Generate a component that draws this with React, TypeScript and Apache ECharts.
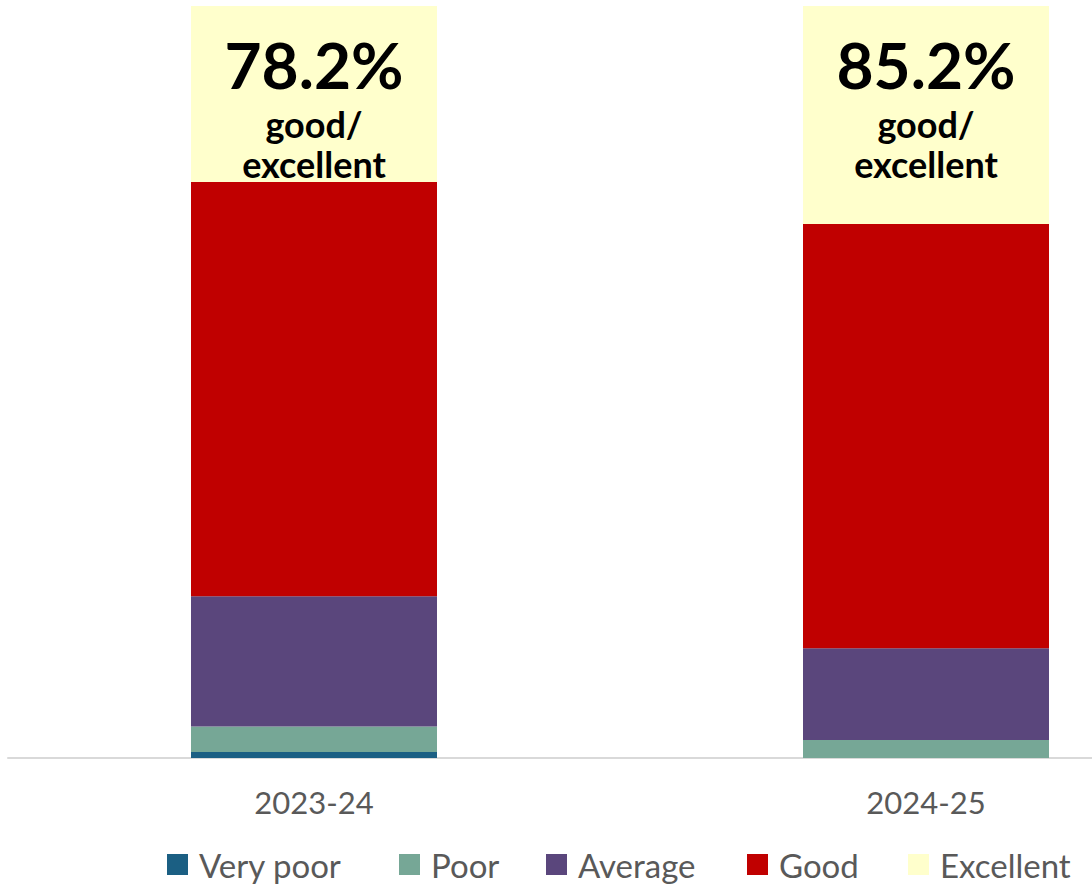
import React, { useEffect, useRef } from "react";
import * as echarts from "echarts";

const categories = ["2023-24", "2024-25"];
const veryPoor = [0.8, 0];
const poor = [3.4, 2.4];
const average = [17.3, 12.2];
const good = [55.1, 56.4];
const excellent = [23.4, 29.0];
const goodExcellentPct = ["78.2%", "85.2%"];

const seriesNames = ["Very poor", "Poor", "Average", "Good", "Excellent"];
const seriesColors = ["#1B5F83", "#76A796", "#5A467C", "#C00000", "#FFFFCC"];
const legendLefts = [167, 399, 546, 747, 908];

export default function App() {
  const ref = useRef<HTMLDivElement>(null);
  useEffect(() => {
    if (!ref.current) return;
    const chart = echarts.init(ref.current, undefined, { renderer: "svg" });
    const values = [veryPoor, poor, average, good, excellent];
    const font = "Lato";
    const series: any[] = seriesNames.map((name, i) => ({
      name,
      type: "bar",
      stack: "total",
      barWidth: 246,
      data: values[i],
      itemStyle: { color: seriesColors[i] },
      emphasis: { disabled: true },
      label:
        name === "Excellent"
          ? {
              show: true,
              position: "insideTop",
              distance: 18,
              formatter: (p: any) =>
                `{a|${goodExcellentPct[p.dataIndex]}}\n{b|good/}\n{b|excellent}`,
              rich: {
                a: {
                  fontFamily: font,
                  fontWeight: "bold",
                  fontSize: 64,
                  lineHeight: 80,
                  color: "#000000",
                  align: "center",
                },
                b: {
                  fontFamily: font,
                  fontWeight: "bold",
                  fontSize: 36,
                  lineHeight: 40,
                  color: "#000000",
                  align: "center",
                },
              },
            }
          : { show: false },
    }));
    chart.setOption({
      animation: false,
      textStyle: { fontFamily: font },
      grid: {
        left: 8,
        top: 6,
        height: 752,
        width: 1224,
        containLabel: false,
        outerBoundsMode: "none",
      },
      xAxis: {
        type: "category",
        data: categories,
        axisLine: { show: true, lineStyle: { color: "#D9D9D9", width: 2 } },
        axisTick: { show: false },
        axisLabel: {
          fontFamily: font,
          fontSize: 31,
          color: "#595959",
          margin: 28,
        },
      },
      yAxis: {
        type: "value",
        min: 0,
        max: 100,
        show: false,
        splitLine: { show: false },
      },
      legend: seriesNames.map((name, i) => ({
        data: [name],
        left: legendLefts[i],
        top: 848,
        padding: 0,
        icon: "rect",
        itemWidth: 21,
        itemHeight: 21,
        selectedMode: false,
        textStyle: {
          fontFamily: font,
          fontSize: 33,
          lineHeight: 33,
          color: "#595959",
          padding: [0, 0, 0, 6],
        },
      })),
      series,
    });
    return () => chart.dispose();
  }, []);
  return (
    <div
      ref={ref}
      style={{ position: "absolute", left: 0, top: 0, width: 1092, height: 886 }}
    />
  );
}
